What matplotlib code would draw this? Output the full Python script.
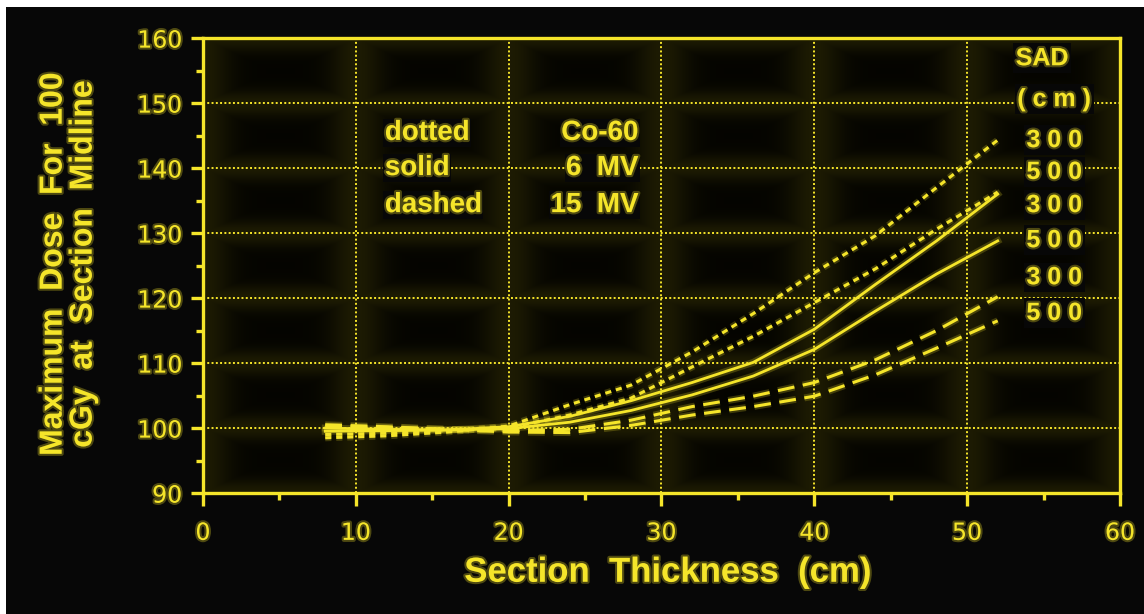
#!/usr/bin/env python3

import numpy as np
import matplotlib
matplotlib.use("Agg")
import matplotlib.pyplot as plt
import matplotlib.patheffects as pe
from matplotlib.patches import Rectangle

YEL = '#f5e52a'
BG = '#070707'

# section thickness (cm)
thickness = [8, 12, 16, 20, 24, 28, 32, 36, 40, 44, 48, 52]

# maximum dose for 100 cGy at midline
co60_300 = [98.5, 98.8, 99.4, 100.3, 103.6, 106.6, 111.7, 117.6, 123.9, 129.6, 137.0, 144.3]
co60_500 = [99.0, 99.2, 99.6, 100.0, 102.0, 104.6, 109.4, 114.1, 119.3, 124.5, 130.6, 136.3]
mv6_300 = [99.5, 99.6, 99.7, 100.2, 101.8, 104.2, 107.0, 110.1, 115.2, 122.1, 128.8, 136.0]
mv6_500 = [100.0, 99.8, 99.7, 99.9, 100.9, 102.7, 105.1, 108.0, 112.1, 118.0, 123.7, 128.8]
mv15_300 = [100.3, 100.1, 99.8, 99.6, 99.8, 101.2, 103.3, 104.9, 107.0, 110.5, 115.0, 120.2]
mv15_500 = [100.5, 100.2, 99.8, 99.4, 99.3, 100.4, 102.0, 103.3, 104.9, 108.2, 112.3, 116.5]

x_ticks = [0, 10, 20, 30, 40, 50, 60]
y_ticks = [90, 100, 110, 120, 130, 140, 150, 160]

key_left = ['dotted', 'solid', 'dashed']
key_right = ['Co-60', '6  MV', '15  MV']
key_y = [145.4, 140.0, 134.3]

sad_labels = ['SAD', '(cm)', '300', '500', '300', '500', '300', '500']
sad_y = [156.9, 150.6, 144.3, 139.4, 134.3, 128.9, 123.2, 117.7]

glow = [pe.Stroke(linewidth=5, foreground=YEL, alpha=0.22), pe.Normal()]
tglow = [pe.withStroke(linewidth=3, foreground=YEL, alpha=0.3)]

fig = plt.figure(figsize=(11.44, 6.14), dpi=100)
fig.patch.set_facecolor('white')
fig.add_artist(Rectangle((6/1144, 0), 1, 1 - 7/614, transform=fig.transFigure,
                         facecolor=BG, edgecolor='none', zorder=-10))

ax = fig.add_axes([0.1774, 0.197, 0.9790 - 0.1774, 0.938 - 0.197])
ax.set_xlim(0, 60)
ax.set_ylim(90, 160)

# hazy slide background: glow around the grid, dark blocks in the cells
gx = np.linspace(0, 60, 600)
gy = np.linspace(90, 160, 500)
X, Y = np.meshgrid(gx, gy)
dx = np.abs(((X + 5) % 10) - 5)
dy = np.abs(((Y + 5) % 10) - 5)
inten = 0.02 + 0.10 * np.maximum(np.exp(-(dx / 1.8) ** 2), np.exp(-(dy / 2.0) ** 2))
img = np.zeros(X.shape + (3,))
img[..., 0] = inten * 0.95
img[..., 1] = inten * 0.88
img[..., 2] = inten * 0.10
ax.imshow(img, extent=[0, 60, 90, 160], origin='lower', aspect='auto', zorder=0)

for v in x_ticks[1:-1]:
    ax.axvline(v, color=YEL, lw=1.4, ls=(0, (1, 1.2)), zorder=1)
for v in y_ticks[1:-1]:
    ax.axhline(v, color=YEL, lw=1.4, ls=(0, (1, 1.2)), zorder=1)

dotted = (0, (2.0, 1.6))
dashed = (0, (5.5, 2.8))
ax.plot(thickness, co60_300, color=YEL, lw=2.2, ls=dotted, path_effects=glow, zorder=3)
ax.plot(thickness, co60_500, color=YEL, lw=2.2, ls=dotted, path_effects=glow, zorder=3)
ax.plot(thickness, mv6_300, color=YEL, lw=2.0, path_effects=glow, zorder=3)
ax.plot(thickness, mv6_500, color=YEL, lw=2.0, path_effects=glow, zorder=3)
ax.plot(thickness, mv15_300, color=YEL, lw=2.2, ls=dashed, path_effects=glow, zorder=3)
ax.plot(thickness, mv15_500, color=YEL, lw=2.2, ls=dashed, path_effects=glow, zorder=3)

for s in ax.spines.values():
    s.set_color(YEL)
    s.set_linewidth(2.4)
    s.set_zorder(4)

ax.set_xticks(x_ticks)
ax.set_yticks(y_ticks)
ax.set_xticks(np.arange(5, 60, 10), minor=True)
ax.set_yticks(np.arange(95, 160, 10), minor=True)
ax.tick_params(which='major', direction='out', color=YEL, width=2.4, length=9,
               labelcolor=YEL, labelsize=17, pad=11)
ax.tick_params(which='minor', direction='out', color=YEL, width=2.4, length=5)
ax.tick_params(axis='y', which='major', pad=6)
for lab in ax.get_xticklabels() + ax.get_yticklabels():
    lab.set_path_effects(tglow)

font = 'Liberation Sans'
for t, yv in zip(key_left, key_y):
    ax.text(11.9, yv, t, color=YEL, fontsize=20, fontweight='bold', family=font,
            ha='left', va='center', zorder=5, path_effects=tglow,
            bbox=dict(facecolor=BG, edgecolor='none', pad=1))
for t, yv in zip(key_right, key_y):
    ax.text(28.5, yv, t, color=YEL, fontsize=20, fontweight='bold', family=font,
            ha='right', va='center', zorder=5, path_effects=tglow,
            bbox=dict(facecolor=BG, edgecolor='none', pad=1))

for t, yv in zip(sad_labels, sad_y):
    shown = t if t == 'SAD' else ' '.join(t)
    xv = 54.9 if t == 'SAD' else 55.7
    ax.text(xv, yv, shown, color=YEL, fontsize=18, fontweight='bold', family=font,
            ha='center', va='center', zorder=5, path_effects=tglow,
            bbox=dict(facecolor=BG, edgecolor='none', pad=2))

fig.text(0.584, 0.068, 'Section  Thickness  (cm)', color=YEL, fontsize=25,
         fontweight='bold', family=font, ha='center', va='center', path_effects=tglow)
fig.text(0.060, 0.570, 'Maximum  Dose  For  100\ncGy  at  Section  Midline', color=YEL,
         fontsize=23, fontweight='bold', family=font, rotation=90, ha='center',
         va='center', multialignment='center', linespacing=1.0, path_effects=tglow)

fig.savefig('out.png', dpi=100, facecolor=fig.get_facecolor())
